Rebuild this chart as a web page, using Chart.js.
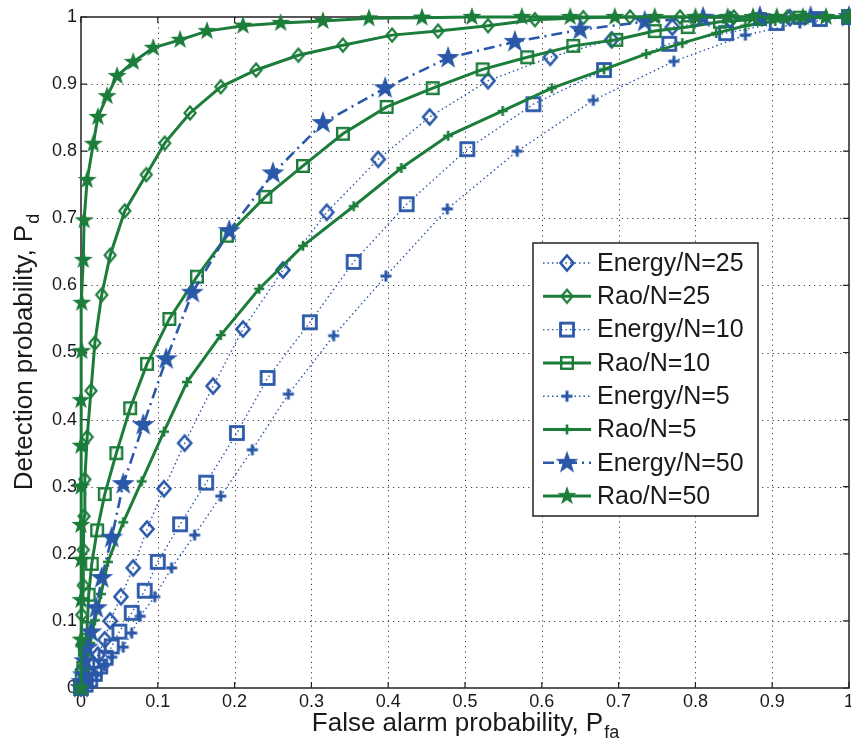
<!DOCTYPE html>
<html>
<head>
<meta charset="utf-8">
<script src="https://cdn.jsdelivr.net/npm/chart.js@4.4.1/dist/chart.umd.min.js"></script>
<style>
  html, body { margin: 0; padding: 0; background: #fff; }
  #wrap { width: 851px; height: 754px; }
</style>
</head>
<body>
<div id="wrap"><canvas id="roc" width="851" height="754"></canvas></div>
<script>
// ROC curves: false alarm (x) vs detection (y) probability
const axisTicks = [0, 0.1, 0.2, 0.3, 0.4, 0.5, 0.6, 0.7, 0.8, 0.9, 1];

const energy25Pfa = [0, 0.003, 0.007, 0.010, 0.016, 0.022, 0.031, 0.038, 0.052, 0.068, 0.086, 0.108, 0.135, 0.172, 0.211, 0.263, 0.320, 0.387, 0.454, 0.530, 0.611, 0.691, 0.770, 0.845, 0.923, 1.0];
const energy25Pd  = [0, 0.006, 0.013, 0.024, 0.036, 0.049, 0.072, 0.100, 0.136, 0.179, 0.237, 0.297, 0.365, 0.450, 0.535, 0.623, 0.709, 0.788, 0.851, 0.905, 0.940, 0.966, 0.985, 0.996, 0.999, 1.0];

const rao25Pfa = [0, 0, 0.001, 0.001, 0.003, 0.003, 0.004, 0.005, 0.008, 0.013, 0.018, 0.027, 0.038, 0.057, 0.085, 0.109, 0.142, 0.182, 0.228, 0.283, 0.341, 0.405, 0.465, 0.530, 0.591, 0.654, 0.715, 0.78, 0.85, 0.92, 1.0];
const rao25Pd  = [0, 0.027, 0.064, 0.109, 0.153, 0.206, 0.256, 0.311, 0.374, 0.443, 0.514, 0.586, 0.645, 0.711, 0.765, 0.812, 0.857, 0.896, 0.921, 0.943, 0.958, 0.973, 0.979, 0.987, 0.996, 0.999, 1.0, 1.0, 1.0, 1.0, 1.0];

const energy10Pfa = [0, 0.006, 0.012, 0.018, 0.025, 0.032, 0.040, 0.050, 0.066, 0.083, 0.100, 0.129, 0.163, 0.203, 0.243, 0.298, 0.355, 0.424, 0.503, 0.589, 0.681, 0.766, 0.840, 0.906, 0.962, 1.0];
const energy10Pd  = [0, 0.005, 0.012, 0.021, 0.032, 0.045, 0.062, 0.084, 0.112, 0.145, 0.188, 0.244, 0.306, 0.380, 0.462, 0.545, 0.635, 0.721, 0.803, 0.870, 0.921, 0.960, 0.976, 0.991, 0.997, 1.0];

const rao10Pfa = [0, 0.001, 0.003, 0.005, 0.008, 0.010, 0.014, 0.021, 0.031, 0.046, 0.064, 0.086, 0.115, 0.151, 0.190, 0.240, 0.289, 0.341, 0.398, 0.458, 0.523, 0.581, 0.641, 0.697, 0.747, 0.790, 0.832, 0.884, 0.936, 1.0];
const rao10Pd  = [0, 0.012, 0.030, 0.057, 0.089, 0.139, 0.185, 0.235, 0.289, 0.350, 0.417, 0.483, 0.550, 0.613, 0.674, 0.732, 0.778, 0.826, 0.866, 0.894, 0.922, 0.940, 0.957, 0.966, 0.979, 0.985, 0.993, 0.997, 0.999, 1.0];

const energy5Pfa = [0, 0.009, 0.020, 0.030, 0.040, 0.055, 0.066, 0.077, 0.096, 0.118, 0.148, 0.182, 0.223, 0.270, 0.329, 0.397, 0.477, 0.568, 0.667, 0.772, 0.865, 0.936, 1.0];
const energy5Pd  = [0, 0.007, 0.019, 0.033, 0.046, 0.061, 0.082, 0.107, 0.136, 0.179, 0.228, 0.286, 0.355, 0.438, 0.525, 0.614, 0.714, 0.800, 0.876, 0.934, 0.973, 0.991, 1.0];

const rao5Pfa = [0, 0.001, 0.004, 0.007, 0.012, 0.018, 0.026, 0.035, 0.055, 0.079, 0.108, 0.138, 0.182, 0.232, 0.289, 0.355, 0.417, 0.478, 0.549, 0.613, 0.681, 0.736, 0.783, 0.827, 0.865, 0.904, 0.949, 1.0];
const rao5Pd  = [0, 0.009, 0.024, 0.042, 0.067, 0.101, 0.140, 0.188, 0.247, 0.308, 0.382, 0.456, 0.526, 0.595, 0.659, 0.718, 0.775, 0.823, 0.860, 0.894, 0.922, 0.945, 0.961, 0.976, 0.987, 0.994, 0.999, 1.0];

const energy50Pfa = [0, 0.001, 0.003, 0.005, 0.008, 0.013, 0.020, 0.027, 0.040, 0.055, 0.081, 0.111, 0.145, 0.193, 0.250, 0.315, 0.396, 0.478, 0.565, 0.650, 0.734, 0.810, 0.884, 0.95, 1.0];
const energy50Pd  = [0, 0.009, 0.019, 0.040, 0.060, 0.083, 0.119, 0.164, 0.224, 0.304, 0.392, 0.490, 0.589, 0.681, 0.767, 0.842, 0.894, 0.939, 0.963, 0.981, 0.993, 0.999, 1.0, 1.0, 1.0];

const rao50Pfa = [0, 0, 0, 0, 0, 0, 0, 0, 0.001, 0.001, 0.003, 0.004, 0.008, 0.016, 0.022, 0.034, 0.047, 0.068, 0.094, 0.129, 0.164, 0.211, 0.260, 0.315, 0.375, 0.444, 0.509, 0.574, 0.637, 0.695, 0.747, 0.80, 0.842, 0.875, 0.906, 0.94, 0.97, 1.0];
const rao50Pd  = [0, 0.072, 0.131, 0.191, 0.243, 0.300, 0.361, 0.429, 0.502, 0.574, 0.638, 0.697, 0.757, 0.811, 0.851, 0.882, 0.912, 0.933, 0.954, 0.966, 0.979, 0.987, 0.991, 0.994, 0.998, 0.999, 1.0, 1.0, 1.0, 1.0, 1.0, 1.0, 1.0, 1.0, 1.0, 1.0, 1.0, 1.0];

const seriesLabels = ["Energy/N=25", "Rao/N=25", "Energy/N=10", "Rao/N=10", "Energy/N=5", "Rao/N=5", "Energy/N=50", "Rao/N=50"];

const BLUE = "#2a58a8";
const GREEN = "#1c7d3b";

function pairUp(xs, ys) {
  return xs.map((x, i) => ({ x: x, y: ys[i] }));
}

// marker sprites (hollow diamond / square, plus, filled star)
function sprite(size, draw) {
  const c = document.createElement("canvas");
  c.width = size; c.height = size;
  const g = c.getContext("2d");
  g.translate(size / 2, size / 2);
  draw(g);
  return c;
}
function diamond(color, hw, hh, lw) {
  return sprite(24, g => {
    g.strokeStyle = color; g.lineWidth = lw; g.lineJoin = "miter";
    g.beginPath();
    g.moveTo(0, -hh); g.lineTo(hw, 0); g.lineTo(0, hh); g.lineTo(-hw, 0); g.closePath();
    g.stroke();
  });
}
function square(color, h, lw) {
  return sprite(24, g => {
    g.strokeStyle = color; g.lineWidth = lw;
    g.strokeRect(-h, -h, 2 * h, 2 * h);
  });
}
function plus(color, h, lw) {
  return sprite(20, g => {
    g.strokeStyle = color; g.lineWidth = lw;
    g.beginPath();
    g.moveTo(-h, 0); g.lineTo(h, 0); g.moveTo(0, -h); g.lineTo(0, h);
    g.stroke();
  });
}
function star(color, r) {
  return sprite(30, g => {
    g.fillStyle = color;
    g.beginPath();
    for (let i = 0; i < 10; i++) {
      const rr = i % 2 === 0 ? r : r * 0.4;
      const a = -Math.PI / 2 + i * Math.PI / 5;
      const px = rr * Math.cos(a), py = rr * Math.sin(a);
      if (i === 0) g.moveTo(px, py); else g.lineTo(px, py);
    }
    g.closePath();
    g.fill();
  });
}

const markers = [
  diamond(BLUE, 6.5, 7.5, 2.6),
  diamond(GREEN, 5.5, 6.5, 2.2),
  square(BLUE, 6.5, 2.8),
  square(GREEN, 5.8, 2.4),
  plus(BLUE, 5.5, 3),
  plus(GREEN, 5, 2.6),
  star(BLUE, 12),
  star(GREEN, 10)
];

const seriesData = [
  pairUp(energy25Pfa, energy25Pd),
  pairUp(rao25Pfa, rao25Pd),
  pairUp(energy10Pfa, energy10Pd),
  pairUp(rao10Pfa, rao10Pd),
  pairUp(energy5Pfa, energy5Pd),
  pairUp(rao5Pfa, rao5Pd),
  pairUp(energy50Pfa, energy50Pd),
  pairUp(rao50Pfa, rao50Pd)
];

const lineStyles = [
  { color: BLUE, width: 1.4, dash: [1.5, 3] },
  { color: GREEN, width: 3, dash: [] },
  { color: BLUE, width: 1.4, dash: [1.5, 3] },
  { color: GREEN, width: 3, dash: [] },
  { color: BLUE, width: 1.4, dash: [1.5, 3] },
  { color: GREEN, width: 3, dash: [] },
  { color: BLUE, width: 2.6, dash: [11, 5, 2, 5] },
  { color: GREEN, width: 3, dash: [] }
];

const datasets = seriesLabels.map((label, i) => ({
  label: label,
  data: seriesData[i],
  showLine: true,
  borderColor: lineStyles[i].color,
  borderWidth: lineStyles[i].width,
  borderDash: lineStyles[i].dash,
  pointStyle: markers[i],
  pointRadius: 6,
  pointHoverRadius: 6,
  tension: 0,
  clip: false,
  order: seriesLabels.length - i
}));

const FONT = "'Liberation Sans', Arial, sans-serif";
const fmt = v => String(+v.toFixed(1));

// grid, box and inward ticks, drawn under the data
const framePlugin = {
  id: "framePlugin",
  beforeDatasetsDraw(chart) {
    const { ctx, chartArea: a, scales } = chart;
    const xs = scales.x, ys = scales.y;
    ctx.save();
    ctx.strokeStyle = "#3a3a3a";
    ctx.lineWidth = 1;
    ctx.setLineDash([1.2, 4]);
    axisTicks.slice(1, -1).forEach(v => {
      const px = Math.round(xs.getPixelForValue(v)) + 0.5;
      const py = Math.round(ys.getPixelForValue(v)) + 0.5;
      ctx.beginPath(); ctx.moveTo(px, a.top); ctx.lineTo(px, a.bottom); ctx.stroke();
      ctx.beginPath(); ctx.moveTo(a.left, py); ctx.lineTo(a.right, py); ctx.stroke();
    });
    ctx.setLineDash([]);
    ctx.strokeStyle = "#222";
    ctx.lineWidth = 1.5;
    ctx.strokeRect(a.left, a.top, a.right - a.left, a.bottom - a.top);
    ctx.lineWidth = 1.2;
    axisTicks.forEach(v => {
      const px = xs.getPixelForValue(v), py = ys.getPixelForValue(v);
      ctx.beginPath();
      ctx.moveTo(px, a.bottom); ctx.lineTo(px, a.bottom - 6);
      ctx.moveTo(px, a.top); ctx.lineTo(px, a.top + 6);
      ctx.moveTo(a.left, py); ctx.lineTo(a.left + 6, py);
      ctx.moveTo(a.right, py); ctx.lineTo(a.right - 6, py);
      ctx.stroke();
    });

    // x tick labels
    ctx.fillStyle = "#1a1a1a";
    ctx.font = "18px " + FONT;
    ctx.textAlign = "center";
    ctx.textBaseline = "top";
    axisTicks.forEach(v => {
      ctx.fillText(fmt(v), xs.getPixelForValue(v), a.bottom + 5);
    });
    ctx.restore();
  },
  afterDraw(chart) {
    const { ctx, chartArea: a } = chart;
    ctx.save();
    ctx.fillStyle = "#1a1a1a";
    ctx.textBaseline = "alphabetic";
    ctx.textAlign = "left";

    // x axis title with subscript
    const xMain = "False alarm probability, P";
    ctx.font = "26px " + FONT;
    const wMain = ctx.measureText(xMain).width;
    ctx.font = "18px " + FONT;
    const wSub = ctx.measureText("fa").width;
    const x0 = (a.left + a.right) / 2 - (wMain + wSub) / 2;
    ctx.font = "26px " + FONT;
    ctx.fillText(xMain, x0, 731);
    ctx.font = "18px " + FONT;
    ctx.fillText("fa", x0 + wMain + 1, 738);

    // y axis title, rotated
    ctx.save();
    ctx.translate(32, (a.top + a.bottom) / 2);
    ctx.rotate(-Math.PI / 2);
    const yMain = "Detection probability, P";
    ctx.font = "26px " + FONT;
    const wyMain = ctx.measureText(yMain).width;
    ctx.font = "18px " + FONT;
    const wySub = ctx.measureText("d").width;
    const y0 = -(wyMain + wySub) / 2;
    ctx.font = "26px " + FONT;
    ctx.fillText(yMain, y0, 0);
    ctx.font = "18px " + FONT;
    ctx.fillText("d", y0 + wyMain + 1, 7);
    ctx.restore();

    // legend box
    const bx = 533, by = 243, bw = 225, bh = 273, rowH = 33.3;
    ctx.fillStyle = "#fff";
    ctx.fillRect(bx, by, bw, bh);
    ctx.strokeStyle = "#222";
    ctx.lineWidth = 1.5;
    ctx.strokeRect(bx, by, bw, bh);
    seriesLabels.forEach((label, i) => {
      const cy = by + 20 + i * rowH;
      const st = lineStyles[i];
      ctx.strokeStyle = st.color;
      ctx.lineWidth = st.width;
      ctx.setLineDash(st.dash);
      ctx.beginPath(); ctx.moveTo(543, cy); ctx.lineTo(591, cy); ctx.stroke();
      ctx.setLineDash([]);
      const m = markers[i];
      ctx.drawImage(m, 567 - m.width / 2, cy - m.height / 2);
      ctx.fillStyle = "#1a1a1a";
      ctx.font = "25px " + FONT;
      ctx.textBaseline = "middle";
      ctx.fillText(label, 597, cy + 1);
    });
    ctx.restore();
  }
};

new Chart(document.getElementById("roc"), {
  type: "scatter",
  data: { datasets: datasets },
  options: {
    responsive: false,
    devicePixelRatio: 1,
    animation: false,
    layout: { autoPadding: false, padding: { top: 17, right: 2, left: 0, bottom: 0 } },
    plugins: {
      legend: { display: false },
      tooltip: { enabled: false }
    },
    scales: {
      x: {
        type: "linear",
        min: 0, max: 1,
        grid: { display: false, drawTicks: false },
        border: { display: false },
        afterFit(s) { s.height = 66; },
        ticks: { display: false }
      },
      y: {
        type: "linear",
        min: 0, max: 1,
        grid: { display: false, drawTicks: false },
        border: { display: false },
        afterFit(s) { s.width = 81; },
        afterBuildTicks(s) { s.ticks = axisTicks.map(v => ({ value: v })); },
        ticks: {
          autoSkip: false, padding: 4,
          color: "#1a1a1a",
          font: { family: FONT, size: 18 },
          callback: fmt
        }
      }
    }
  },
  plugins: [framePlugin]
});
</script>
</body>
</html>
